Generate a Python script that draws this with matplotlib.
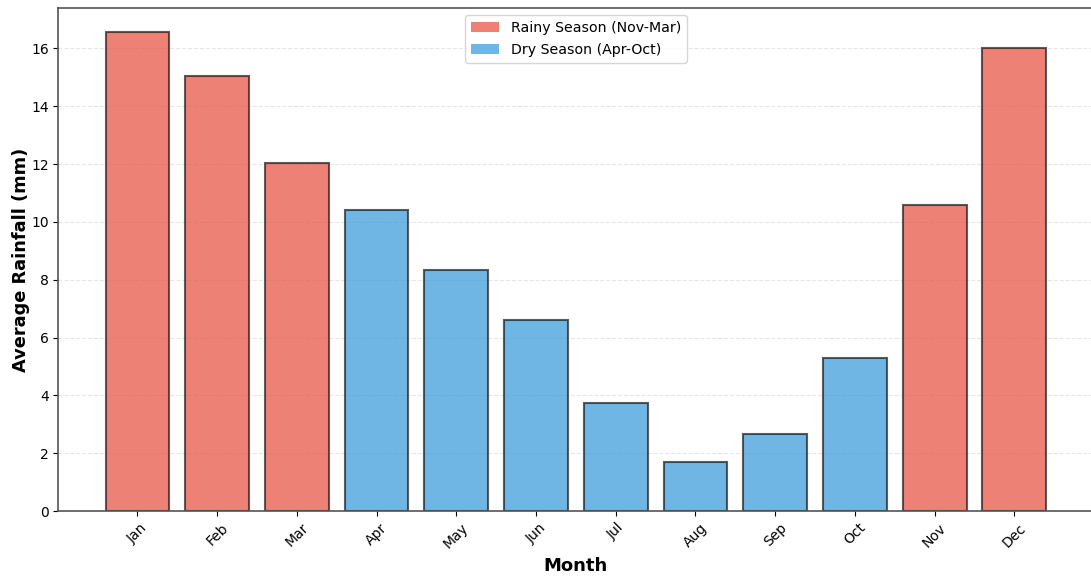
import matplotlib
matplotlib.use("Agg")
import matplotlib.pyplot as plt
from matplotlib.patches import Patch

months = ["Jan", "Feb", "Mar", "Apr", "May", "Jun", "Jul", "Aug", "Sep", "Oct", "Nov", "Dec"]
rainfall = [16.57, 15.06, 12.05, 10.40, 8.35, 6.62, 3.72, 1.71, 2.68, 5.28, 10.60, 16.02]
season = ["rainy", "rainy", "rainy", "dry", "dry", "dry", "dry", "dry", "dry", "dry", "rainy", "rainy"]
legend_labels = ["Rainy Season (Nov-Mar)", "Dry Season (Apr-Oct)"]

rainy_color = "#E74C3C"
dry_color = "#3498DB"
colors = [rainy_color if s == "rainy" else dry_color for s in season]

fig = plt.figure(figsize=(10.91, 5.76), dpi=100)
ax = fig.add_axes([0.0536, 0.1128, 0.9485, 0.8733])

x = list(range(len(months)))
ax.bar(x, rainfall, width=0.8, color=colors, alpha=0.7,
       edgecolor="black", linewidth=1.5)
for b in ax.patches:
    b.set_edgecolor((0.1, 0.1, 0.1, 0.8))

ax.set_xticks(x)
ax.set_xticklabels(months, rotation=45)
ax.set_xlabel("Month", fontsize=13, fontweight="bold")
ax.set_ylabel("Average Rainfall (mm)", fontsize=12.8, fontweight="bold", labelpad=1)
ax.grid(axis="y", linestyle="--", alpha=0.3)
ax.set_axisbelow(True)
for sp in ax.spines.values():
    sp.set_color("#555555")
    sp.set_linewidth(1.2)

handles = [Patch(facecolor=rainy_color, alpha=0.7, label=legend_labels[0]),
           Patch(facecolor=dry_color, alpha=0.7, label=legend_labels[1])]
ax.legend(handles=handles, loc="upper center", fontsize=10.2, labelspacing=0.6)

fig.savefig("out.png", dpi=100)
